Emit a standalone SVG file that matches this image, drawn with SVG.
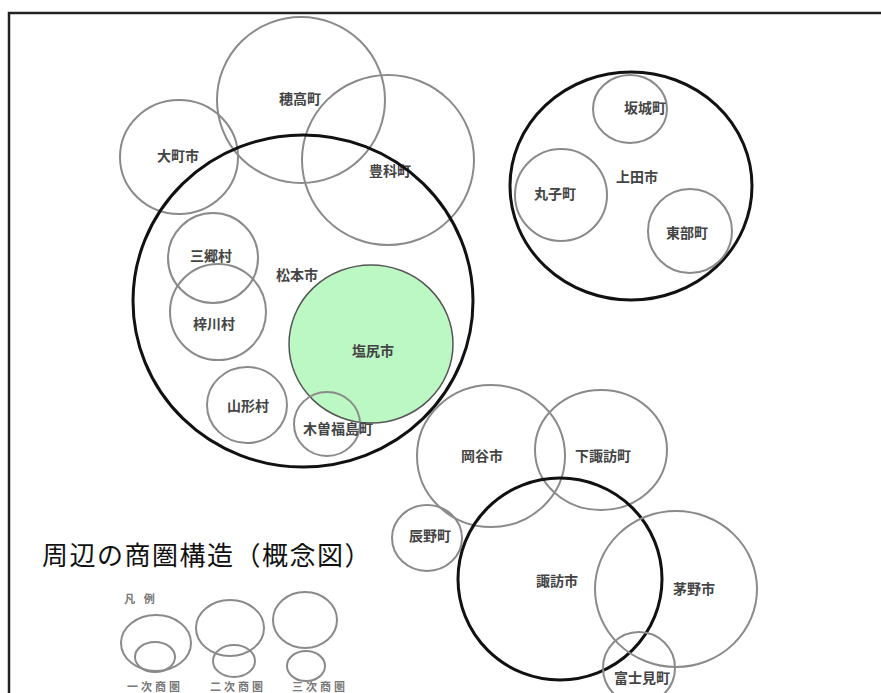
<svg xmlns="http://www.w3.org/2000/svg" width="881" height="693" viewBox="0 0 881 693">
<style>
.thin{fill:none;stroke:#8a8a8a;stroke-width:2}
.thick{fill:none;stroke:#111;stroke-width:3}
.lbl{font-family:"Noto Sans CJK JP","Noto Sans CJK SC",sans-serif;font-size:14px;font-weight:bold;fill:#444;text-anchor:middle;dominant-baseline:central}
.leg{font-family:"Noto Sans CJK JP",sans-serif;font-size:11px;font-weight:bold;fill:#777;text-anchor:middle;dominant-baseline:central;letter-spacing:3px}
.title{font-family:"Noto Sans CJK JP",sans-serif;font-size:26px;fill:#111;letter-spacing:1.5px}
</style>
<rect width="881" height="693" fill="#fff"/>
<path d="M9 700 V13 H890" fill="none" stroke="#222" stroke-width="2.5"/>
<g id="hotaka"><ellipse class="thin" cx="301" cy="100" rx="84" ry="83"/><text class="lbl" x="300" y="98">穂高町</text></g>
<g id="omachi"><ellipse class="thin" cx="179" cy="157" rx="59" ry="57"/><text class="lbl" x="178" y="155">大町市</text></g>
<g id="toyoshina"><ellipse class="thin" cx="388" cy="160" rx="86" ry="85"/><text class="lbl" x="390" y="170">豊科町</text></g>
<g id="shiojiri"><ellipse cx="371" cy="344" rx="82" ry="79" fill="#bcf8c4" stroke="#555" stroke-width="1.5"/><text class="lbl" x="373" y="350">塩尻市</text></g>
<g id="matsumoto"><ellipse class="thick" cx="303" cy="301" rx="170" ry="166"/><text class="lbl" x="297" y="274">松本市</text></g>
<g id="misato"><ellipse class="thin" cx="213" cy="258" rx="45" ry="45"/><text class="lbl" x="211" y="255">三郷村</text></g>
<g id="azusagawa"><ellipse class="thin" cx="218" cy="312" rx="48" ry="48"/><text class="lbl" x="214" y="323">梓川村</text></g>
<g id="yamagata"><ellipse class="thin" cx="247" cy="405" rx="40" ry="38"/><text class="lbl" x="248" y="405">山形村</text></g>
<g id="kisofukushima"><ellipse class="thin" cx="327" cy="424" rx="33" ry="32"/><text class="lbl" x="338" y="428">木曽福島町</text></g>
<g id="ueda"><ellipse class="thick" cx="631" cy="186" rx="121" ry="114"/><text class="lbl" x="637" y="176">上田市</text></g>
<g id="sakaki"><ellipse class="thin" cx="630" cy="109" rx="37" ry="34"/><text class="lbl" x="645" y="107">坂城町</text></g>
<g id="maruko"><ellipse class="thin" cx="561" cy="195" rx="46" ry="46"/><text class="lbl" x="555" y="193">丸子町</text></g>
<g id="tobu"><ellipse class="thin" cx="690" cy="231" rx="42" ry="42"/><text class="lbl" x="687" y="232">東部町</text></g>
<g id="okaya"><ellipse class="thin" cx="491" cy="456" rx="74" ry="71"/><text class="lbl" x="482" y="455">岡谷市</text></g>
<g id="shimosuwa"><ellipse class="thin" cx="601" cy="450" rx="66" ry="60"/><text class="lbl" x="603" y="455">下諏訪町</text></g>
<g id="tatsuno"><ellipse class="thin" cx="427" cy="538" rx="35" ry="33"/><text class="lbl" x="430" y="535">辰野町</text></g>
<g id="suwa"><ellipse class="thick" cx="560" cy="579" rx="102" ry="101"/><text class="lbl" x="557" y="580">諏訪市</text></g>
<g id="chino"><ellipse class="thin" cx="676" cy="589" rx="81" ry="78"/><text class="lbl" x="694" y="588">茅野市</text></g>
<g id="fujimi"><ellipse class="thin" cx="639" cy="668" rx="36" ry="36"/><text class="lbl" x="642" y="677">富士見町</text></g>
<g id="title"><text class="title" x="42" y="565">周辺の商圏構造（概念図）</text></g>
<g id="legend">
<text class="leg" x="141" y="598">凡 例</text>
<ellipse class="thin" cx="156" cy="643" rx="35" ry="28"/><ellipse class="thin" cx="155" cy="657" rx="20" ry="15"/>
<ellipse class="thin" cx="230" cy="628" rx="34" ry="28"/><ellipse class="thin" cx="234" cy="661" rx="21" ry="16"/>
<ellipse class="thin" cx="305" cy="620" rx="32" ry="28"/><ellipse class="thin" cx="306" cy="666" rx="19" ry="15"/>
<text class="leg" x="155" y="686">一次商圏</text>
<text class="leg" x="238" y="686">二次商圏</text>
<text class="leg" x="320" y="686">三次商圏</text>
</g>
<g id="connectors"/>
</svg>
